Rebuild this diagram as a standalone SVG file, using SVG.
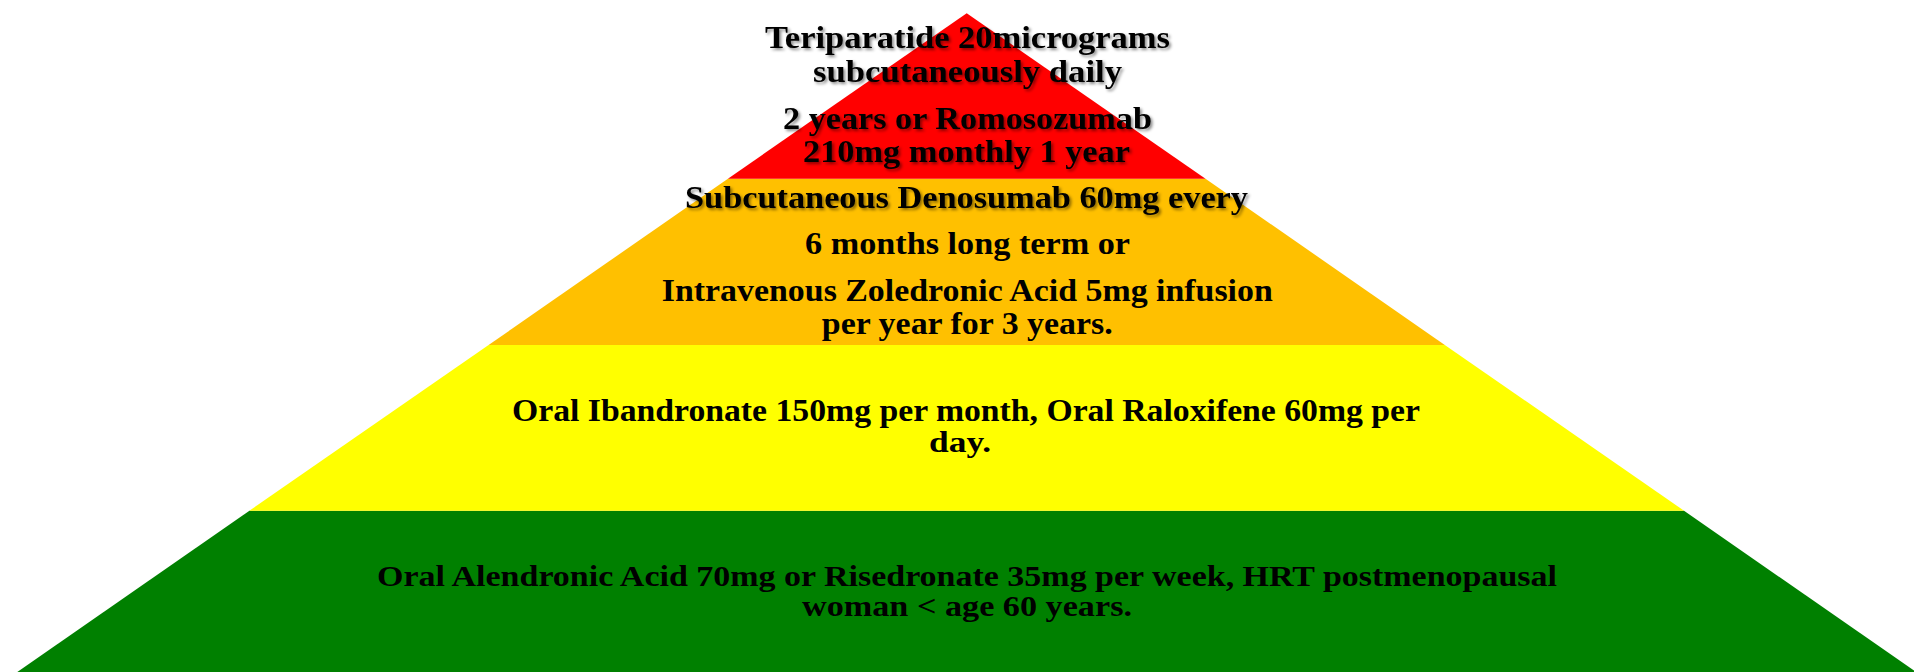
<svg xmlns="http://www.w3.org/2000/svg" width="1914" height="672" viewBox="0 0 1914 672">
<style>
.t{font-family:"Liberation Serif","DejaVu Serif",serif;font-weight:bold;font-size:31px;fill:#000;text-anchor:middle}
.s{font-size:29px}
.sh{filter:url(#shadow)}
</style>
<defs>
<filter id="shadow" x="-5%" y="-30%" width="110%" height="160%">
<feDropShadow dx="2" dy="2" stdDeviation="1.6" flood-color="#000" flood-opacity="0.45"/>
</filter>
</defs>
<rect width="1914" height="672" fill="#fff"/>
<g id="tier-green">
<polygon points="249.4,510.7 1684,510.7 1916,672 17.3,672" fill="#008000"/>
<text class="t s" x="967" y="585.5" textLength="1180" lengthAdjust="spacingAndGlyphs">Oral Alendronic Acid 70mg or Risedronate 35mg per week, HRT postmenopausal</text>
<text class="t s" x="967" y="616" textLength="330" lengthAdjust="spacingAndGlyphs">woman &lt; age 60 years.</text>
</g>
<g id="tier-yellow">
<polygon points="488.6,345 1444.8,345 1684,510.7 249.4,510.7" fill="#ffff00"/>
<text class="t" x="966" y="421" textLength="908" lengthAdjust="spacingAndGlyphs">Oral Ibandronate 150mg per month, Oral Raloxifene 60mg per</text>
<text class="t s" x="960" y="452" textLength="62" lengthAdjust="spacingAndGlyphs">day.</text>
</g>
<g id="tier-orange">
<polygon points="727.9,178.7 1205.5,178.7 1444.8,345 488.6,345" fill="#ffc000"/>
<text class="t sh" x="966.5" y="208" textLength="563" lengthAdjust="spacingAndGlyphs">Subcutaneous Denosumab 60mg every</text>
<text class="t" x="967.5" y="254" textLength="325" lengthAdjust="spacingAndGlyphs">6 months long term or</text>
<text class="t" x="967.3" y="300.5" textLength="611" lengthAdjust="spacingAndGlyphs">Intravenous Zoledronic Acid 5mg infusion</text>
<text class="t" x="967.3" y="334" textLength="291" lengthAdjust="spacingAndGlyphs">per year for 3 years.</text>
</g>
<g id="tier-red">
<polygon points="966.7,13.3 1205.5,178.7 727.9,178.7" fill="#ff0000"/>
<text class="t sh" x="967.5" y="48.3" textLength="405" lengthAdjust="spacingAndGlyphs">Teriparatide 20micrograms</text>
<text class="t sh" x="967.5" y="81.5" textLength="309" lengthAdjust="spacingAndGlyphs">subcutaneously daily</text>
<text class="t sh" x="967.5" y="129.3" textLength="369" lengthAdjust="spacingAndGlyphs">2 years or Romosozumab</text>
<text class="t sh" x="966.5" y="161.7" textLength="327" lengthAdjust="spacingAndGlyphs">210mg monthly 1 year</text>
</g>
<g id="connectors"/>
</svg>
